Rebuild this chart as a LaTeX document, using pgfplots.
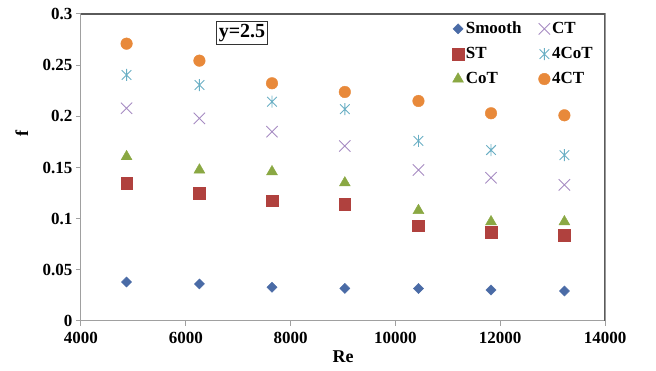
\documentclass[border=0pt]{standalone}
\usepackage{fontspec}
\setmainfont{Liberation Serif}
\usepackage{pgfplots}
\usepackage{pgfplotstable}
\pgfplotsset{compat=1.18}
\definecolor{cSmooth}{HTML}{4A6BA6}
\definecolor{cST}{HTML}{B0413E}
\definecolor{cCoT}{HTML}{8AA843}
\definecolor{cCT}{HTML}{A68BC2}
\definecolor{c4CoT}{HTML}{6AAFC4}
\definecolor{c4CT}{HTML}{E8893A}
\definecolor{axgray}{HTML}{A0A0A0}
\definecolor{frame}{HTML}{5A5A5A}
\pgfdeclareplotmark{xstar}{%
  \pgfpathmoveto{\pgfqpoint{-.8\pgfplotmarksize}{-.8\pgfplotmarksize}}%
  \pgfpathlineto{\pgfqpoint{.8\pgfplotmarksize}{.8\pgfplotmarksize}}%
  \pgfpathmoveto{\pgfqpoint{-.8\pgfplotmarksize}{.8\pgfplotmarksize}}%
  \pgfpathlineto{\pgfqpoint{.8\pgfplotmarksize}{-.8\pgfplotmarksize}}%
  \pgfpathmoveto{\pgfqpoint{0pt}{\pgfplotmarksize}}%
  \pgfpathlineto{\pgfqpoint{0pt}{-\pgfplotmarksize}}%
  \pgfusepathqstroke}
\pgfplotstableread{
Re     Smooth  ST     CoT    CT     FCoT   FCT
4870   0.0381  0.1346 0.1606 0.2079 0.2404 0.2710
6260   0.0362  0.1248 0.1476 0.1980 0.2306 0.2544
7645   0.0330  0.1176 0.1459 0.1850 0.2143 0.2323
9035   0.0318  0.1140 0.1350 0.1710 0.2070 0.2238
10440  0.0318  0.0930 0.1080 0.1476 0.1760 0.2150
11825  0.0303  0.0870 0.0970 0.1400 0.1670 0.2030
13225  0.0293  0.0840 0.0970 0.1330 0.1620 0.2010
}\data
\begin{document}
\begin{tikzpicture}
\path[use as bounding box] (-81pt,-50pt) rectangle (575pt,321pt);
\begin{axis}[
  scale only axis,
  width=524pt, height=307pt,
  xmin=4000, xmax=14000, ymin=0, ymax=0.3,
  xtick={4000,6000,...,14000},
  ytick={0,0.05,0.1,0.15,0.2,0.25,0.3},
  scaled ticks=false,
  /pgf/number format/assume math mode=true,
  /pgf/number format/1000 sep={},
  yticklabel style={/pgf/number format/fixed,/pgf/number format/precision=2},
  xticklabel style={yshift=-3pt},
  tick label style={font=\bfseries\fontsize{17}{17}\selectfont},
  label style={font=\bfseries\fontsize{18}{18}\selectfont},
  xlabel={Re}, ylabel={f},
  xlabel style={at={(axis description cs:0.5,0)}, anchor=center, yshift=-36pt},
  ylabel style={at={(axis description cs:-0.113,0.612)}, anchor=center},
  axis line style={axgray, line width=1pt},
  tick style={axgray, line width=1pt},
  tick align=outside,
  xtick pos=bottom, ytick pos=left,
  major tick length=5pt,
  legend columns=2,
  legend style={at={(1,1)}, anchor=north east, xshift=-7pt, yshift=-3pt, draw=none, fill=none,
    font=\bfseries\fontsize{17}{17}\selectfont, inner sep=3pt, row sep=8.2pt,
    /tikz/every even column/.append style={column sep=15pt}},
  legend cell align=left,
  legend image code/.code={\draw[mark repeat=2,mark phase=2] plot coordinates {(0pt,0pt)(5pt,0pt)(10pt,0pt)};},
]
\addplot[only marks, mark=square*, mark size=3.6pt, mark options={rotate=45, fill=cSmooth, draw=cSmooth}] table[x=Re, y=Smooth] {\data};
\addlegendentry{Smooth}
\addplot[only marks, mark=x, mark size=8pt, mark options={draw=cCT, line width=0.9pt}] table[x=Re, y=CT] {\data};
\addlegendentry{CT}
\addplot[only marks, mark=square*, mark size=5.8pt, mark options={fill=cST, draw=cST}] table[x=Re, y=ST] {\data};
\addlegendentry{ST}
\addplot[only marks, mark=xstar, mark size=6pt, mark options={draw=c4CoT, line width=0.9pt}] table[x=Re, y=FCoT] {\data};
\addlegendentry{4CoT}
\addplot[only marks, mark=triangle*, mark size=6.3pt, mark options={fill=cCoT, draw=cCoT}] table[x=Re, y=CoT] {\data};
\addlegendentry{CoT}
\addplot[only marks, mark=*, mark size=5.8pt, mark options={fill=c4CT, draw=c4CT}] table[x=Re, y=FCT] {\data};
\addlegendentry{4CT}
\draw[frame, line width=1.6pt] (rel axis cs:0,1) -- (rel axis cs:1,1) -- (rel axis cs:1,0);
\node[draw=black!80, line width=1.2pt, fill=white, inner sep=2.5pt, font=\bfseries\fontsize{20}{20}\selectfont] at (axis cs:7073,0.2814) {y=2.5};
\end{axis}
\end{tikzpicture}
\end{document}
